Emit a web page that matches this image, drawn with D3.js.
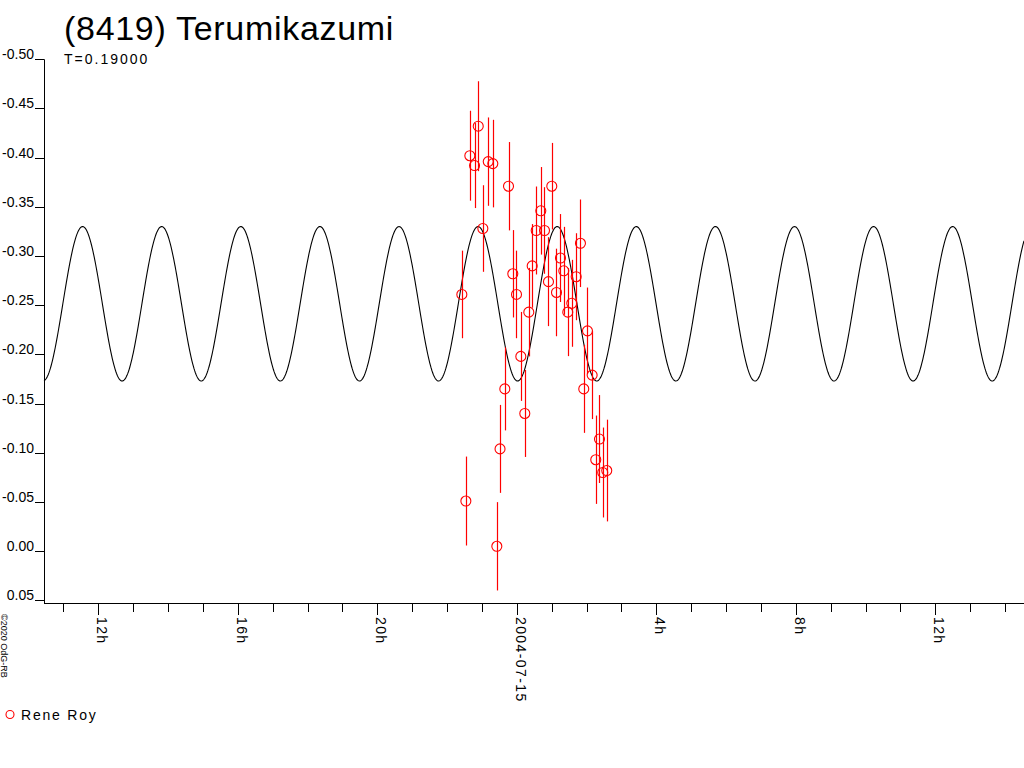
<!DOCTYPE html>
<html>
<head>
<meta charset="utf-8">
<script src="https://cdn.jsdelivr.net/npm/d3@7"></script>
<style>
  html, body { margin: 0; padding: 0; background: #fff; }
  svg { display: block; font-family: "Liberation Sans", Arial, sans-serif; }
</style>
</head>
<body>
<svg id="chart" width="1024" height="768"></svg>
<script>
// ---- Data ----
const title = "(8419) Terumikazumi";
const periodLabel = "T=0.19000";
const observer = "Rene Roy";
const copyright = "\u00A92020 OdG-RB";

// observation times: hours relative to 2004-07-15 00:00 UT
const obsHours = [-1.576, -1.461, -1.347, -1.212, -1.106, -0.974, -0.819, -0.688, -0.573, -0.481,
                  -0.344, -0.238, -0.115, -0.009, 0.115, 0.229, 0.344, 0.441, 0.556, 0.688,
                  0.794, 0.908, 1.003, 1.138, 1.252, 1.347, 1.461, 1.576, 1.702, 1.825,
                  1.920, 2.026, 2.160, 2.264, 2.370, 2.464, 2.579];
// relative magnitudes
const obsMag = [-0.261, -0.051, -0.402, -0.392, -0.432, -0.328, -0.396, -0.394, -0.005, -0.104,
                -0.165, -0.371, -0.282, -0.261, -0.198, -0.140, -0.243, -0.290, -0.326, -0.346,
                -0.326, -0.274, -0.371, -0.263, -0.298, -0.285, -0.243, -0.252, -0.279, -0.313,
                -0.165, -0.224, -0.179, -0.093, -0.114, -0.080, -0.082];
// error bars (half-length, mag)
const obsErr = [0.0445, 0.0452, 0.0457, 0.0432, 0.0457, 0.044, 0.0449, 0.0445, 0.0449, 0.0447,
                0.0422, 0.0449, 0.0444, 0.0445, 0.0452, 0.0442, 0.045, 0.0425, 0.0447, 0.0445,
                0.044, 0.0452, 0.044, 0.0445, 0.0447, 0.0447, 0.0447, 0.0442, 0.0442, 0.0445,
                0.0447, 0.044, 0.0447, 0.0449, 0.0447, 0.0457, 0.0517];

// model lightcurve (2nd-harmonic fit, as drawn)
const fitMean = -0.2515;
const fitAmp = 0.0785;
const fitCycleHours = 2.268;  // spacing of drawn maxima
const fitPeakHour = -1.11;    // hours rel. to 2004-07-15 00:00 UT (brightest)

// axis ticks
const yTicks = [-0.50, -0.45, -0.40, -0.35, -0.30, -0.25, -0.20, -0.15, -0.10, -0.05, 0.00, 0.05];
const xMajorHours = [-12, -8, -4, 0, 4, 8, 12];
const xMajorLabels = ["12h", "16h", "20h", "2004-07-15", "4h", "8h", "12h"];
const xDomainHours = [-13.557, 14.543];

// ---- Drawing ----
const svg = d3.select("#chart");
const base = Date.UTC(2004, 6, 15, 0, 0, 0);
const toDate = h => new Date(base + h * 3600e3);

const plotLeft = 44, plotRight = 1024, axisY = 603;
const x = d3.scaleUtc()
  .domain(xDomainHours.map(toDate))
  .range([plotLeft, plotRight]);
const y = d3.scaleLinear().domain([-0.5, 0.05]).range([59.3, 600.4]);

// Title
svg.append("text").attr("x", 64).attr("y", 40)
  .attr("font-size", 34).attr("letter-spacing", 0.7).attr("fill", "#000").text(title);
svg.append("text").attr("x", 64).attr("y", 64)
  .attr("font-size", 14).attr("letter-spacing", 2.0).attr("fill", "#000").text(periodLabel);

// Y axis
svg.append("line").attr("x1", plotLeft + 0.5).attr("x2", plotLeft + 0.5)
  .attr("y1", y(-0.5)).attr("y2", axisY).attr("stroke", "#000");
const yt = svg.append("g").selectAll("g").data(yTicks).join("g");
yt.append("line").attr("x1", 35).attr("x2", plotLeft)
  .attr("y1", d => Math.round(y(d)) + 0.5).attr("y2", d => Math.round(y(d)) + 0.5)
  .attr("stroke", "#000");
yt.append("text").attr("x", 34).attr("y", d => Math.round(y(d)))
  .attr("text-anchor", "end").attr("font-size", 14).attr("fill", "#000")
  .text(d => d3.format(".2f")(d).replace("\u2212", "-"));

// X axis
svg.append("line").attr("x1", plotLeft).attr("x2", plotRight)
  .attr("y1", axisY + 0.5).attr("y2", axisY + 0.5).attr("stroke", "#000");
const minorTicks = x.ticks(d3.utcHour.every(1));
svg.append("g").selectAll("line").data(minorTicks).join("line")
  .attr("x1", d => Math.round(x(d)) + 0.5).attr("x2", d => Math.round(x(d)) + 0.5)
  .attr("y1", axisY).attr("y2", d => (d.getUTCHours() % 4 === 0 ? axisY + 12 : axisY + 9))
  .attr("stroke", "#000");
svg.append("g").selectAll("text").data(xMajorHours).join("text")
  .attr("transform", (d) => `translate(${Math.round(x(toDate(d))) - 1},617) rotate(90)`)
  .attr("font-size", 14).attr("letter-spacing", 1.4).attr("fill", "#000")
  .text((d, i) => xMajorLabels[i]);

// copyright
svg.append("text").attr("transform", "translate(1,614) rotate(90)")
  .attr("font-size", 9).attr("fill", "#000").text(copyright);

// Model curve
const curveHours = d3.range(xDomainHours[0], xDomainHours[1] + 0.001, 0.02);
const line = d3.line()
  .x(h => x(toDate(h)))
  .y(h => y(fitMean - fitAmp * Math.cos(2 * Math.PI * (h - fitPeakHour) / fitCycleHours)));
svg.append("path").datum(curveHours).attr("d", line)
  .attr("fill", "none").attr("stroke", "#000").attr("stroke-width", 1.1);

// Observations
const obs = obsHours.map((h, i) => ({ t: toDate(h), m: obsMag[i], e: obsErr[i] }));
const g = svg.append("g");
g.selectAll("line").data(obs).join("line")
  .attr("x1", d => Math.round(x(d.t)) + 0.5).attr("x2", d => Math.round(x(d.t)) + 0.5)
  .attr("y1", d => y(d.m - d.e)).attr("y2", d => y(d.m + d.e))
  .attr("stroke", "#ff0000").attr("stroke-width", 1.2);
g.selectAll("circle").data(obs).join("circle")
  .attr("cx", d => x(d.t)).attr("cy", d => y(d.m)).attr("r", 5)
  .attr("fill", "none").attr("stroke", "#ff0000").attr("stroke-width", 1.1);

// Legend
svg.append("circle").attr("cx", 10).attr("cy", 714.5).attr("r", 4)
  .attr("fill", "none").attr("stroke", "#ff0000").attr("stroke-width", 1.1);
svg.append("text").attr("x", 21).attr("y", 719.5)
  .attr("font-size", 14).attr("letter-spacing", 1.8).attr("fill", "#000").text(observer);
</script>
</body>
</html>
